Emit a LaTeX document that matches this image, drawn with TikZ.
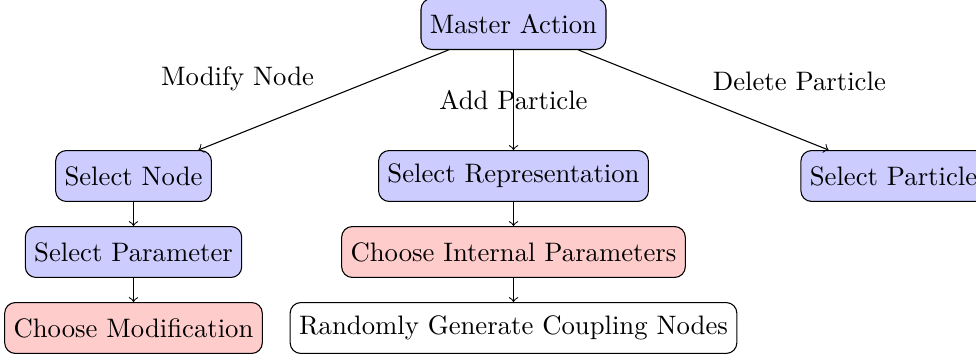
\documentclass[tikz,border=0pt]{standalone}

\begin{document}
\begin{tikzpicture}[
    step box/.style={rectangle,draw,rounded corners,minimum height=0.67cm},
    pick/.style={step box,fill=blue!20},
    choose/.style={step box,fill=red!20}
]

    \useasboundingbox (-6.757,-4.37) rectangle (6.086,0.316);

    % master_action
    \node[pick] (master) at (0,0) {Master Action};

    % modify branch
    \node[pick] (selnode) at (-5,-2) {Select Node};
    \node[pick] (selparam) at (-5,-3) {Select Parameter};
    \node[choose] (chmod) at (-5,-4) {Choose Modification};

    % add branch
    \node[pick] (selrep) at (0,-2) {Select Representation};
    \node[choose] (chint) at (0,-3) {Choose Internal Parameters};
    \node[step box] (gencoup) at (0,-4) {Randomly Generate Coupling Nodes};

    % delete branch
    \node[pick] (selpart) at (5,-2) {Select Particle};

    \draw[->] (master) to node[above left] {Modify Node} (selnode); % master -> modify
    \draw[->] (master) to node {Add Particle} (selrep); % master -> add
    \draw[->] (master) to node[above right] {Delete Particle} (selpart); % master -> delete
    \draw[->] (selnode) to (selparam);
    \draw[->] (selparam) to (chmod);
    \draw[->] (selrep) to (chint);
    \draw[->] (chint) to (gencoup);

\end{tikzpicture}
\end{document}
